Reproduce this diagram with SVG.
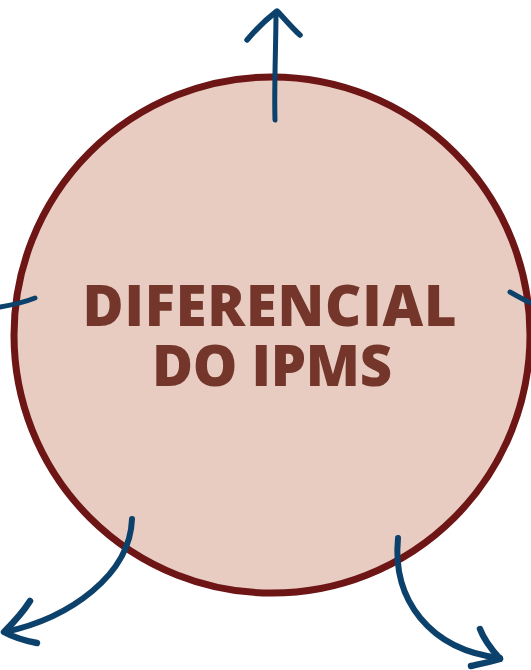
<svg xmlns="http://www.w3.org/2000/svg" width="531" height="670" viewBox="0 0 531 670">
<style>
.arrow{fill:none;stroke:#0C416B;stroke-linecap:round;stroke-linejoin:round}
.label{font-family:"Open Sans","Noto Sans",sans-serif;font-weight:800;font-size:56px;fill:#74362A;text-anchor:middle}
</style>
<rect width="531" height="670" fill="#ffffff"/>
<g id="node-center">
<circle cx="272" cy="335" r="258" fill="#E8CCC1" stroke="#6E1516" stroke-width="7"/>
<text class="label" x="269.5" y="326" textLength="374" lengthAdjust="spacing">DIFERENCIAL</text>
<text class="label" x="272" y="386" textLength="240" lengthAdjust="spacing">DO IPMS</text>
</g>
<g id="connectors">
<path class="arrow" stroke-width="5" d="M275 120 C274 85 276 45 276 12"/>
<path class="arrow" stroke-width="5.5" d="M247 40 C257 28 268 18 277 11 C284 18 292 28 300 35"/>
<path class="arrow" stroke-width="6" d="M132 519 C130 575 70 618 5 632"/>
<path class="arrow" stroke-width="6.5" d="M30 601 C22 614 12 624 4 632 C15 638 26 641 37 643"/>
<path class="arrow" stroke-width="6" d="M398 538 C392 600 430 650 500 658"/>
<path class="arrow" stroke-width="6.5" d="M480 629 C484 640 492 650 500 659 C490 662 480 664 471 666"/>
<path class="arrow" stroke-width="5" d="M0 307 C12 305 25 302 35 298"/>
<path class="arrow" stroke-width="5" d="M510 292 C517 296 524 300 531 303"/>
</g>
</svg>
